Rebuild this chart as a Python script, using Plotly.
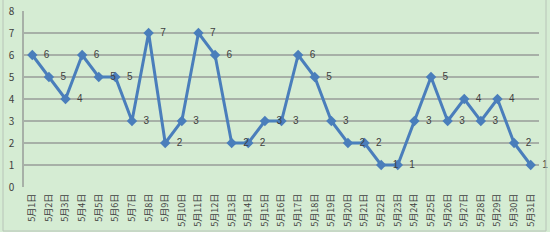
import plotly.graph_objects as go

days = [f"5月{i}日" for i in range(1, 32)]
values = [6, 5, 4, 6, 5, 5, 3, 7, 2, 3, 7, 6, 2, 2, 3, 3, 6, 5, 3, 2, 2, 1, 1, 3, 5, 3, 4, 3, 4, 2, 1]
y_ticks = [0, 1, 2, 3, 4, 5, 6, 7, 8]

fig = go.Figure()
fig.add_trace(go.Scatter(
    x=days, y=values, mode="lines+markers+text",
    text=["  " + str(v) for v in values], textposition="middle right",
    textfont=dict(size=10, color="#404040", family="Liberation Sans"),
    line=dict(color="#4A7EBB", width=3),
    marker=dict(symbol="diamond", size=8, color="#4A7EBB"),
    cliponaxis=False,
))

W, H = 550, 242
l, r, t, b = 24, 11, 11, 55
pw, ph = W - l - r, H - t - b
# white strip below the chart frame
fig.add_shape(type="rect", xref="paper", yref="paper",
              x0=-l / pw, x1=(W - l) / pw,
              y0=-b / ph, y1=(H - b - 232) / ph,
              fillcolor="white", line=dict(width=0), layer="above")
fig.add_shape(type="rect", xref="paper", yref="paper",
              x0=(3 - l) / pw, x1=(546 - l) / pw,
              y0=(H - b - 231) / ph, y1=(H - b + 1) / ph,
              fillcolor="rgba(0,0,0,0)", line=dict(color="#B8C4B8", width=1), layer="above")

fig.update_layout(
    width=W, height=H, margin=dict(l=l, r=r, t=t, b=b, autoexpand=False),
    paper_bgcolor="#D5ECD3", plot_bgcolor="rgba(0,0,0,0)",
    showlegend=False,
    font=dict(family="Noto Sans CJK SC", color="#404040"),
)
fig.update_xaxes(
    type="category", range=[-0.5, 30.5], tickangle=-90, tickfont=dict(size=9, color="#404040"),
    showgrid=False, showline=False, ticks="", zeroline=False, ticklabelstandoff=4,
    automargin=False,
)
fig.update_yaxes(
    range=[0, 8], tickvals=y_ticks, tickfont=dict(size=10, color="#404040"),
    showgrid=True, gridcolor="#A7B0A7", gridwidth=2,
    showline=True, linecolor="#A7B0A7", linewidth=1.5, zeroline=False, ticks="",
    ticklabelstandoff=6, automargin=False,
)
fig.write_html("out.html")
